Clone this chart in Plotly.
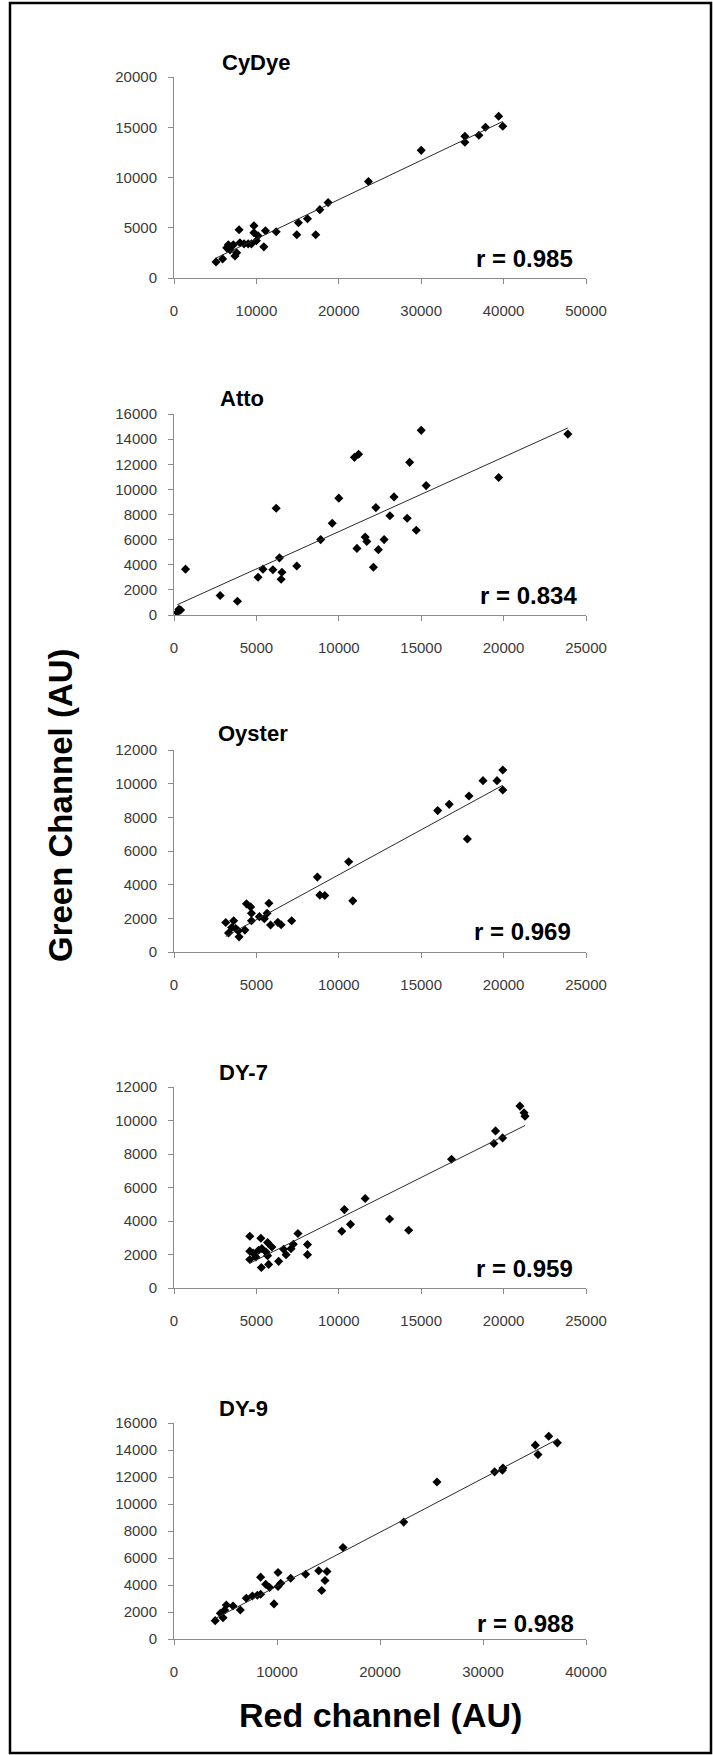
import numpy as np
import plotly.graph_objects as go

W, H = 713, 1755

# ---------------- data (thousands of AU) ----------------
cydye_x = [5.1, 5.9, 6.4, 6.6, 6.8, 7.2, 7.4, 7.6, 7.9, 8.0, 8.5, 9.0, 9.4, 9.7, 9.7, 10.0, 10.2, 10.9,
           11.1, 12.4, 14.9, 15.1, 16.2, 17.2, 17.7, 18.7, 23.6, 30.0, 35.3, 35.3, 37.0, 37.8, 39.4, 39.9]
cydye_y = [1.6, 1.9, 3.0, 3.3, 2.8, 3.3, 2.2, 2.5, 4.8, 3.5, 3.4, 3.4, 3.4, 5.2, 4.5, 3.7, 4.2, 3.1,
           4.7, 4.6, 4.3, 5.5, 5.9, 4.3, 6.8, 7.5, 9.6, 12.7, 14.1, 13.5, 14.2, 15.0, 16.1, 15.1]

atto_x = [0.2, 0.3, 0.4, 0.7, 2.8, 3.85, 5.1, 5.4, 6.0, 6.2, 6.4, 6.55, 6.5, 7.45, 8.9, 9.6, 10.0,
          10.95, 11.2, 11.1, 11.6, 11.7, 12.1, 12.25, 12.4, 12.75, 13.1, 13.35, 14.15, 14.3, 14.7,
          15.0, 15.3, 19.7, 23.9]
atto_y = [0.2, 0.45, 0.4, 3.65, 1.55, 1.1, 3.0, 3.65, 3.6, 8.5, 4.55, 3.4, 2.85, 3.9, 6.0, 7.3, 9.3,
          12.55, 12.8, 5.3, 6.2, 5.85, 3.8, 8.55, 5.2, 6.0, 7.9, 9.4, 7.7, 12.15, 6.75,
          14.7, 10.3, 10.95, 14.4]

oyster_x = [3.14, 3.31, 3.62, 3.5, 3.75, 3.95, 3.9, 4.3, 4.4, 4.65, 4.7, 4.7, 5.18, 5.48, 5.65, 5.76,
            5.86, 6.3, 6.5, 7.14, 8.7, 8.85, 9.15, 10.6, 10.85, 16.0, 16.7, 17.8, 17.9, 18.75,
            19.6, 19.95, 19.95]
oyster_y = [1.75, 1.13, 1.86, 1.45, 1.4, 0.9, 1.25, 1.3, 2.86, 2.68, 2.3, 1.86, 2.1, 1.98, 2.3, 2.9,
            1.6, 1.76, 1.62, 1.86, 4.45, 3.38, 3.36, 5.36, 3.04, 8.4, 8.77, 6.71, 9.27, 10.18,
            10.18, 10.81, 9.62]

dy7_x = [4.6, 4.6, 4.6, 4.8, 4.97, 5.13, 5.27, 5.3, 5.33, 5.58, 5.68, 5.68, 5.74, 5.94, 6.35, 6.65,
         6.8, 7.1, 7.24, 7.52, 8.1, 8.1, 10.18, 10.34, 10.71, 11.6, 13.08, 14.24, 16.84, 19.41,
         19.51, 19.94, 20.99, 21.24, 21.3]
dy7_y = [3.09, 2.2, 1.7, 2.09, 1.85, 2.25, 2.97, 1.22, 2.36, 2.15, 2.71, 1.93, 1.41, 2.45, 1.59, 2.31,
         1.99, 2.35, 2.61, 3.25, 2.59, 1.99, 3.39, 4.68, 3.8, 5.34, 4.12, 3.45, 7.69, 8.63,
         9.38, 8.96, 10.86, 10.46, 10.26]

dy9_x = [4.0, 4.5, 4.76, 4.92, 5.08, 5.73, 6.44, 7.02, 7.61, 8.09, 8.41, 8.41, 8.9, 9.29, 9.71, 10.1,
         10.1, 10.36, 11.33, 12.78, 14.05, 14.34, 14.66, 14.85, 16.41, 22.3, 25.53, 31.13, 31.88,
         31.94, 35.08, 35.34, 36.38, 37.22]
dy9_y = [1.36, 1.91, 1.58, 2.15, 2.52, 2.45, 2.15, 3.02, 3.19, 3.24, 4.58, 3.32, 4.06, 3.81, 2.6, 4.93,
         3.89, 4.13, 4.5, 4.8, 5.05, 3.59, 4.33, 5.0, 6.78, 8.66, 11.63, 12.38, 12.5,
         12.67, 14.36, 13.66, 15.02, 14.53]

names = ["CyDye", "Atto", "Oyster", "DY-7", "DY-9"]
r_labels = ["r = 0.985", "r = 0.834", "r = 0.969", "r = 0.959", "r = 0.988"]
xs = [cydye_x, atto_x, oyster_x, dy7_x, dy9_x]
ys = [cydye_y, atto_y, oyster_y, dy7_y, dy9_y]
x_max = [50000, 25000, 25000, 25000, 40000]
x_dtick = [10000, 5000, 5000, 5000, 10000]
y_max = [20000, 16000, 12000, 12000, 16000]
y_dtick = [5000, 2000, 2000, 2000, 2000]
x_title = "Red channel (AU)"
y_title = "Green Channel (AU)"

# ---------------- layout geometry (pixels) ----------------
plot_left, plot_right = 174, 586
panel_tb = [(77, 278), (414, 615), (750, 952), (1087, 1288), (1423, 1639)]
title_pos = [(220, 63), (218, 399), (216, 733), (217, 1072), (217, 1408)]
r_pos = [(575, 258), (579, 595), (573, 932), (575, 1268), (576, 1623)]

FONT = "Arial, Liberation Sans, sans-serif"
AXC = "#8a8a8a"
TXC = "#3a3a3a"

fig = go.Figure()
layout = dict(width=W, height=H, margin=dict(l=0, r=0, t=0, b=0),
              paper_bgcolor="white", plot_bgcolor="white", showlegend=False,
              font=dict(family=FONT, color=TXC))
annotations = []

for i in range(5):
    sfx = "" if i == 0 else str(i + 1)
    x = np.array(xs[i]) * 1000
    y = np.array(ys[i]) * 1000
    fig.add_trace(go.Scatter(x=x, y=y, mode="markers", xaxis="x" + sfx, yaxis="y" + sfx,
                             marker=dict(symbol="diamond", size=7, color="black",
                                         line=dict(width=0)),
                             hoverinfo="x+y"))
    k, b = np.polyfit(x, y, 1)
    lx = np.array([x.min(), x.max()])
    fig.add_trace(go.Scatter(x=lx, y=k * lx + b, mode="lines", xaxis="x" + sfx, yaxis="y" + sfx,
                             line=dict(color="#2a2a2a", width=1), hoverinfo="skip"))
    t, bt = panel_tb[i]
    common = dict(showgrid=False, zeroline=False, showline=True, linecolor=AXC, linewidth=1,
                  ticks="outside", tickcolor=AXC, ticklen=5, tickwidth=1,
                  tickfont=dict(family=FONT, size=15, color=TXC), tickformat="d",
                  automargin=False, fixedrange=True)
    layout["xaxis" + sfx] = dict(domain=[plot_left / W, plot_right / W], range=[0, x_max[i]],
                                 dtick=x_dtick[i], tick0=0, anchor="y" + sfx,
                                 ticklabelstandoff=14, **common)
    layout["yaxis" + sfx] = dict(domain=[1 - bt / H, 1 - t / H], range=[0, y_max[i]],
                                 dtick=y_dtick[i], tick0=0, anchor="x" + sfx,
                                 ticklabelstandoff=8, **common)
    tx, ty = title_pos[i]
    annotations.append(dict(text=names[i], x=tx / W, y=1 - ty / H, xref="paper", yref="paper",
                            xanchor="left", yanchor="middle", showarrow=False,
                            font=dict(family=FONT, size=22, color="black", weight="bold")))
    rx, ry = r_pos[i]
    annotations.append(dict(text=r_labels[i], x=rx / W, y=1 - ry / H, xref="paper", yref="paper",
                            xanchor="right", yanchor="middle", showarrow=False,
                            font=dict(family=FONT, size=24, color="black", weight="bold")))

annotations.append(dict(text=x_title, x=380 / W, y=1 - 1715 / H, xref="paper", yref="paper",
                        xanchor="center", yanchor="middle", showarrow=False,
                        font=dict(family=FONT, size=34, color="black", weight="bold")))
annotations.append(dict(text=y_title, x=60 / W, y=1 - 805 / H, xref="paper", yref="paper",
                        xanchor="center", yanchor="middle", showarrow=False, textangle=-90,
                        font=dict(family=FONT, size=33, color="black", weight="bold")))

layout["annotations"] = annotations
layout["shapes"] = [dict(type="rect", xref="paper", yref="paper",
                         x0=10 / W, x1=711 / W, y0=1 - 1753 / H, y1=1 - 3 / H,
                         line=dict(color="black", width=2.5), fillcolor="rgba(0,0,0,0)")]
fig.update_layout(**layout)
fig.write_html("out.html")
